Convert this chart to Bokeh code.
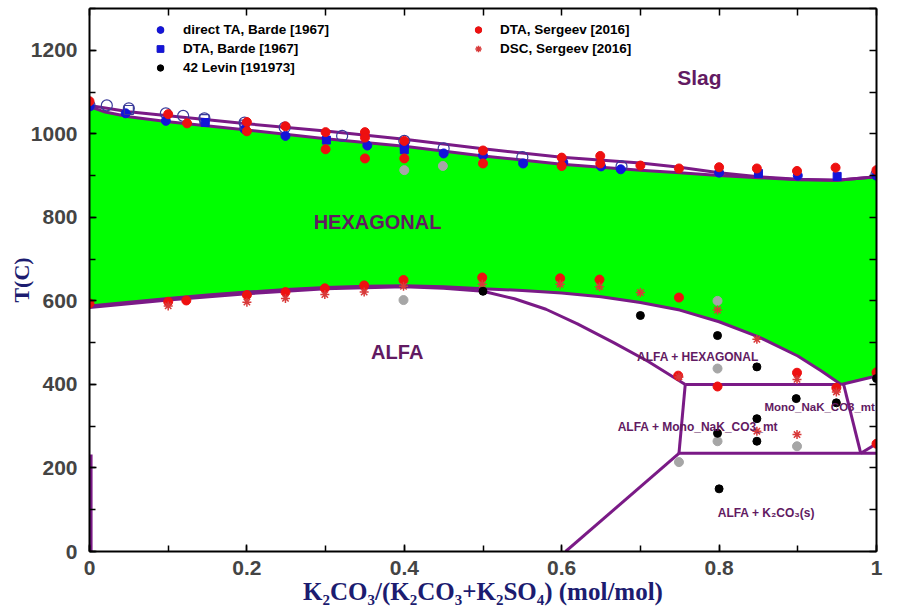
import numpy as np
from bokeh.plotting import figure
from bokeh.models import (Range1d, LinearAxis, SingleIntervalTicker, Label, Legend,
                          LegendItem, CustomJSTickFormatter)
from bokeh.core.properties import value
from bokeh.embed import file_html
from bokeh.resources import INLINE

# ---------------- phase boundaries ----------------
liq_x = [0, 0.05, 0.1, 0.2, 0.3, 0.4, 0.5, 0.6, 0.7, 0.75, 0.8, 0.85, 0.9, 0.95, 1.0]
liq_T = [1068, 1053, 1043, 1024, 1007, 987, 964, 944, 930, 920, 907, 897, 891, 889, 897]
sol_x = [0, 0.02, 0.05, 0.1, 0.2, 0.3, 0.4, 0.5, 0.6, 0.7, 0.75, 0.8, 0.85, 0.9, 0.95, 1.0]
sol_T = [1065, 1052, 1041, 1029, 1009, 988, 970, 947, 927, 913, 907, 900, 895, 890, 889, 897]
hex_x = [0, 0.05, 0.1, 0.15, 0.2, 0.25, 0.3, 0.35, 0.4, 0.45, 0.5, 0.55, 0.6, 0.65,
         0.7, 0.75, 0.8, 0.85, 0.9, 0.93, 0.955]
hex_T = [588, 597, 606, 614, 621, 627, 632, 635, 636, 634, 629, 625, 619, 610,
         596, 578, 550, 514, 468, 432, 400]
alfa_x = [0, 0.1, 0.2, 0.3, 0.4, 0.45, 0.5, 0.54, 0.58, 0.62, 0.666, 0.71, 0.757]
alfa_T = [584, 602, 617, 629, 634, 630, 623, 605, 580, 545, 500, 455, 400]
seg_x = [[0.757, 0.955], [0.955, 1.0], [0.757, 0.749], [0.749, 1.0], [0.958, 0.98],
         [0.98, 1.0], [0.749, 0.605], [0.002, 0.002]]
seg_T = [[400, 400], [400, 420], [400, 235], [235, 235], [402, 235],
         [235, 258], [235, 0], [0, 232]]
right_edge_T = [897, 420]

# ---------------- experimental points ----------------
ta_open_x = [0, 0.022, 0.05, 0.097, 0.119, 0.146, 0.197, 0.248, 0.321, 0.4, 0.45, 0.55, 0.676, 1.0]
ta_open_T = [1068, 1068, 1061, 1049, 1043, 1037, 1027, 1015, 995, 983, 965, 944, 922, 903]
ta_fill_x = [0, 0.046, 0.097, 0.197, 0.249, 0.353, 0.45, 0.5, 0.551, 0.602, 0.65, 0.675, 0.8, 0.9, 1.0]
ta_fill_T = [1066, 1049, 1031, 1011, 995, 972, 953, 948, 929, 932, 922, 915, 907, 900, 900]
dta_open_x = [0.05, 0.146, 0.197]
dta_open_T = [1057, 1035, 1022]
dta_fill_x = [0.147, 0.301, 0.4, 0.4, 0.85, 0.95]
dta_fill_T = [1027, 985, 970, 962, 905, 898]
levin_x = [0.5, 0.7, 0.798, 0.848, 0.898, 0.949, 0.848, 0.798, 0.848, 1.0, 0.8]
levin_T = [623, 565, 517, 442, 366, 356, 318, 283, 264, 414, 150]
serg_red_x = [0, 0.1, 0.124, 0.2, 0.2, 0.249, 0.3, 0.3, 0.35, 0.35, 0.35, 0.4, 0.4, 0.5, 0.5,
              0.6, 0.6, 0.649, 0.649, 0.7, 0.749, 0.8, 0.848, 0.899, 0.948, 1.0,
              0, 0.1, 0.123, 0.2, 0.249, 0.299, 0.349, 0.399, 0.499, 0.598, 0.648, 0.749,
              0.748, 0.798, 0.899, 0.949, 1.0, 1.0]
serg_red_T = [1078, 1047, 1025, 1028, 1006, 1018, 1004, 963, 1004, 991, 941, 983, 941, 960, 929,
              943, 923, 947, 929, 924, 917, 920, 917, 911, 919, 913,
              594, 598, 601, 614, 621, 630, 637, 650, 656, 654, 651, 608,
              421, 395, 428, 392, 429, 258]
serg_gray_x = [0.4, 0.449, 0.798, 0.399, 0.798, 0.798, 0.899, 0.749]
serg_gray_T = [913, 923, 600, 602, 438, 264, 252, 214]
dsc_x = [0.1, 0.2, 0.249, 0.299, 0.349, 0.399, 0.499, 0.598, 0.648, 0.7, 0.798, 0.848,
         0.899, 0.949, 0.848, 0.899, 0.749]
dsc_T = [588, 597, 606, 615, 621, 635, 640, 640, 634, 620, 578, 508,
         412, 382, 288, 280, 418]

# ---------------- labels ----------------
region_labels = ["Slag", "HEXAGONAL", "ALFA", "ALFA + HEXAGONAL", "ALFA + Mono_NaK_CO3_mt",
                 "Mono_NaK_CO3_mt", "ALFA + K\u2082CO\u2083(s)"]
x_ticks = [0, 0.2, 0.4, 0.6, 0.8, 1.0]
y_ticks = [0, 200, 400, 600, 800, 1000, 1200]

PURPLE = "#7a1a86"
TXT = "#621a62"
NAVY = "#1c1c70"
SANS = "Liberation Sans"

p = figure(width=918, height=609, output_backend="svg", toolbar_location=None,
           x_range=Range1d(0, 1), y_range=Range1d(0, 1300),
           min_border_left=89, min_border_right=42, min_border_top=8, min_border_bottom=58,
           x_axis_label="K\u2082CO\u2083/(K\u2082CO\u2083+K\u2082SO\u2084) (mol/mol)",
           y_axis_label="T(C)")
p.grid.visible = False
p.outline_line_color = None
p.background_fill_color = "white"
p.border_fill_color = "white"

# green hexagonal field
gx = sol_x + [1.0] + hex_x[::-1]
gT = sol_T + [right_edge_T[1]] + hex_T[::-1]
p.patch(gx, gT, fill_color="#00ff00", line_color=None)

# boundaries
p.line(liq_x, liq_T, line_color=PURPLE, line_width=3)
p.line(sol_x, sol_T, line_color=PURPLE, line_width=3)
p.line(hex_x, hex_T, line_color=PURPLE, line_width=3)
p.line(alfa_x, alfa_T, line_color=PURPLE, line_width=3)
p.multi_line(seg_x, seg_T, line_color=PURPLE, line_width=3)

# points
r_ta_open = p.scatter(ta_open_x, ta_open_T, marker="circle", size=11, fill_color=None,
                      line_color="#3a3a9a", line_width=1.2)
r_ta = p.scatter(ta_fill_x, ta_fill_T, marker="circle", size=9, fill_color="#1414d8",
                 line_color="#1414d8")
r_dta_open = p.scatter(dta_open_x, dta_open_T, marker="square", size=9, fill_color=None,
                       line_color="#3a3a9a", line_width=1.2)
r_dta = p.scatter(dta_fill_x, dta_fill_T, marker="square", size=8, fill_color="#1414d8",
                  line_color="#1414d8")
r_gray = p.scatter(serg_gray_x, serg_gray_T, marker="circle", size=9, fill_color="#a6a6a6",
                   line_color="#a6a6a6")
r_red = p.scatter(serg_red_x, serg_red_T, marker="circle", size=9, fill_color="#ee1010",
                  line_color="#ee1010")
r_dsc = p.scatter(dsc_x, dsc_T, marker="asterisk", size=9, line_color="#d83a3a", line_width=1.5)
r_lev = p.scatter(levin_x, levin_T, marker="circle", size=8, fill_color="black", line_color="black")

# axes
def style_axis(ax, interval, minor):
    ax.ticker = SingleIntervalTicker(interval=interval, num_minor_ticks=minor)
    ax.axis_line_color = "black"
    ax.axis_line_width = 2
    ax.major_tick_in = 7
    ax.major_tick_out = 0
    ax.minor_tick_in = 6
    ax.minor_tick_out = 0
    ax.major_tick_line_width = 1.5
    ax.minor_tick_line_width = 1.5

xa = p.xaxis[0]
style_axis(xa, 0.2, 2)
xa.formatter = CustomJSTickFormatter(code="return (Math.round(tick*10)/10).toString();")
xa.major_label_text_font = SANS
xa.major_label_text_font_style = "bold"
xa.major_label_text_font_size = "21px"
xa.major_label_standoff = 9
xa.axis_label_text_font = "Liberation Serif"
xa.axis_label_text_font_style = "bold"
xa.axis_label_text_font_size = "25px"
xa.axis_label_text_color = NAVY
xa.axis_label_standoff = 0

ya = p.yaxis[0]
style_axis(ya, 200, 2)
ya.major_label_text_font = SANS
ya.major_label_text_font_style = "bold"
ya.major_label_text_font_size = "21px"
ya.major_label_standoff = 12
ya.axis_label_text_font = "Liberation Serif"
ya.axis_label_text_font_style = "bold"
ya.axis_label_text_font_size = "22px"
ya.axis_label_text_color = NAVY
ya.axis_label_standoff = -6

blank = CustomJSTickFormatter(code="return '';")
top = LinearAxis(formatter=blank)
style_axis(top, 0.1, 0)
top.major_label_text_font_size = "0px"
top.major_label_standoff = 0
p.add_layout(top, "above")
right = LinearAxis(formatter=blank)
style_axis(right, 100, 0)
right.major_label_text_font_size = "0px"
right.major_label_standoff = 0
p.add_layout(right, "right")

# region labels
lab_specs = [
    (0.775, 1135, 21, "center"),
    (0.366, 790, 20, "center"),
    (0.391, 478, 20, "center"),
    (0.773, 465, 12, "center"),
    (0.773, 297, 12, "center"),
    (0.998, 347, 11.5, "right"),
    (0.86, 93, 12, "center"),
]
for txt, (lx, ly, fs, al) in zip(region_labels, lab_specs):
    p.add_layout(Label(x=lx, y=ly, text=txt, text_font=SANS, text_font_style="bold",
                       text_font_size=f"{fs}px", text_color=TXT, text_align=al,
                       text_baseline="middle"))

# legends
def mk_legend(items, loc, standoff):
    lg = Legend(items=items, location=loc, padding=0, spacing=0, margin=0,
                glyph_width=16, glyph_height=19, label_height=19, label_standoff=standoff,
                border_line_color=None, background_fill_alpha=0,
                label_text_font=SANS, label_text_font_style="bold",
                label_text_font_size="13.5px", label_text_color="black")
    return lg

leg1 = mk_legend([LegendItem(label="direct TA, Barde [1967]", renderers=[r_ta_open, r_ta]),
                  LegendItem(label="DTA, Barde [1967]", renderers=[r_dta_open, r_dta]),
                  LegendItem(label="42 Levin [191973]", renderers=[r_lev])], (63, 474), 15)
leg2 = mk_legend([LegendItem(label="DTA, Sergeev [2016]", renderers=[r_gray, r_red]),
                  LegendItem(label="DSC, Sergeev [2016]", renderers=[r_dsc])], (381, 493), 14)
p.add_layout(leg1)
p.add_layout(leg2)

open("out.html", "w").write(file_html(p, INLINE))
